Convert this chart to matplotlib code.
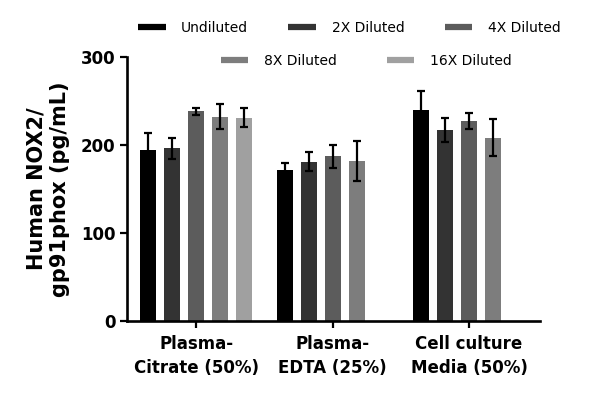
import numpy as np
import matplotlib
matplotlib.use("Agg")
import matplotlib.pyplot as plt
from matplotlib.lines import Line2D

# data
groups = ["Plasma-\nCitrate (50%)", "Plasma-\nEDTA (25%)", "Cell culture\nMedia (50%)"]
series = ["Undiluted", "2X Diluted", "4X Diluted", "8X Diluted", "16X Diluted"]
colors = ["#000000", "#333333", "#5c5c5c", "#7d7d7d", "#a0a0a0"]

undiluted = [194, 172, 240]
dil_2x = [196, 181, 217]
dil_4x = [238, 187, 227]
dil_8x = [232, 182, 208]
dil_16x = [231, np.nan, np.nan]

undiluted_err = [20, 7, 21]
dil_2x_err = [12, 11, 14]
dil_4x_err = [4, 13, 9]
dil_8x_err = [14, 23, 21]
dil_16x_err = [11, np.nan, np.nan]

values = [undiluted, dil_2x, dil_4x, dil_8x, dil_16x]
errors = [undiluted_err, dil_2x_err, dil_4x_err, dil_8x_err, dil_16x_err]

plt.rcParams['font.family'] = ['DejaVu Sans']

fig = plt.figure(figsize=(6.0, 3.98), dpi=100)
ax = fig.add_axes([0.212, 0.1935, 0.688, 0.6635])

x = np.arange(len(groups))
slot = 24 / 136.5
width = 16 / 136.5

for i in range(len(series)):
    xs = x + (i - 2) * slot
    v = np.array(values[i], dtype=float)
    e = np.array(errors[i], dtype=float)
    ok = ~np.isnan(v)
    ax.bar(xs[ok], v[ok], width=width, color=colors[i], zorder=2)
    ax.errorbar(xs[ok], v[ok], yerr=e[ok], fmt="none", ecolor="black",
                elinewidth=1.6, capsize=3, capthick=1.6, zorder=3)

ax.set_xlim(-0.505, 2.52)
ax.set_ylim(0, 300)
ax.set_yticks([0, 100, 200, 300])
ax.set_xticks(x)
ax.set_xticklabels(groups, fontsize=12, fontweight="bold", linespacing=1.45)
ax.tick_params(axis="y", labelsize=12, width=1.6, length=5)
for lab in ax.get_yticklabels():
    lab.set_fontweight("bold")
ax.tick_params(axis="x", width=1.6, length=5, pad=5)

for s in ["top", "right"]:
    ax.spines[s].set_visible(False)
for s in ["left", "bottom"]:
    ax.spines[s].set_linewidth(1.9)

ax.set_ylabel("Human NOX2/\ngp91phox (pg/mL)", fontsize=15, fontweight="bold",
              labelpad=8)

handles = [Line2D([0], [0], color=c, lw=4.5, solid_capstyle="butt") for c in colors]
leg1 = fig.legend(handles[:3], series[:3], loc="center", bbox_to_anchor=(0.582, 0.93),
                  ncol=3, frameon=False, fontsize=10, handlelength=2.0,
                  handletextpad=1.1, columnspacing=2.9)
leg2 = fig.legend(handles[3:], series[3:], loc="center", bbox_to_anchor=(0.61, 0.847),
                  ncol=2, frameon=False, fontsize=10, handlelength=2.0,
                  handletextpad=1.1, columnspacing=3.6)

fig.savefig("out.png", dpi=100)
